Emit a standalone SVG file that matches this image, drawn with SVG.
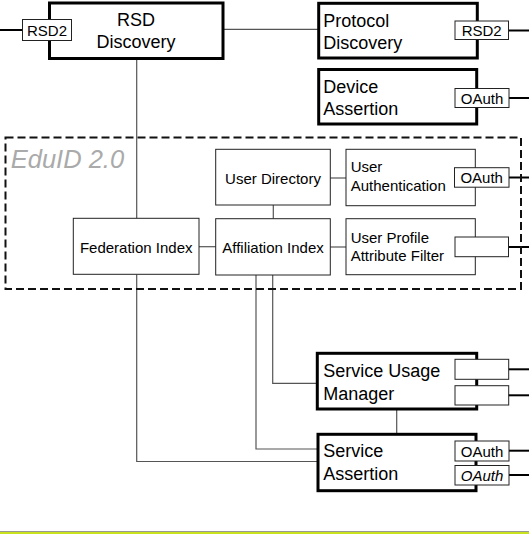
<svg xmlns="http://www.w3.org/2000/svg" width="529" height="534" viewBox="0 0 529 534">
<style>
.thick{fill:#fff;stroke:#000;stroke-width:3}
.thin{fill:#fff;stroke:#222;stroke-width:1}
.tag{fill:#fff;stroke:#222;stroke-width:1}
.conn{fill:none;stroke:#555;stroke-width:1.2}
.out{fill:none;stroke:#000;stroke-width:2}
text{font-family:"Liberation Sans",Arial,sans-serif;fill:#000}
.big{font-size:18px}
.mid{font-size:15px}
.tt{font-size:15px;text-anchor:middle}
.c{text-anchor:middle}
</style>
<rect x="0" y="0" width="529" height="534" fill="#fff"/>
<g id="connectors">
<path class="out" d="M0 30H23"/>
<path class="conn" d="M224 29.3H318"/>
<path class="out" d="M508 30.5H529"/>
<path class="out" d="M508 98H529"/>
<path class="out" d="M508 177.5H529"/>
<path class="out" d="M508 247H529"/>
<path class="out" d="M508 369.3H529"/>
<path class="out" d="M508 395.3H529"/>
<path class="out" d="M508 450.7H529"/>
<path class="out" d="M508 475H529"/>
<path class="conn" d="M136.7 60V218.5"/>
<path class="conn" d="M199 246.7H216"/>
<path class="conn" d="M330 178H346"/>
<path class="conn" d="M330 247H346"/>
<path class="conn" d="M273.3 205V218.7"/>
<path class="conn" d="M136.7 274.5V461.5H318"/>
<path class="conn" d="M256 275V449H318"/>
<path class="conn" d="M272.7 275V383.3H318"/>
<path class="conn" d="M396.7 409V434"/>
</g>
<g id="eduid">
<rect x="5.5" y="137.5" width="515.5" height="151.5" fill="none" stroke="#111" stroke-width="2" stroke-dasharray="8 4"/>
<text x="10.7" y="167.7" font-size="25.5" font-style="italic" style="fill:#aaa">EduID 2.0</text>
</g>
<g id="rsd-discovery">
<rect class="thick" x="49.5" y="3" width="173.5" height="55.5"/>
<text class="big c" x="136" y="26">RSD</text>
<text class="big c" x="136" y="48">Discovery</text>
<rect class="tag" x="22.5" y="19.5" width="49" height="21"/>
<text class="tt" x="47" y="35.5">RSD2</text>
</g>
<g id="protocol-discovery">
<rect class="thick" x="318.7" y="3.3" width="158.6" height="54.7"/>
<text class="big" x="323.3" y="26.7">Protocol</text>
<text class="big" x="323.3" y="49">Discovery</text>
<rect class="tag" x="455" y="21" width="53.5" height="18.5"/>
<text class="tt" x="481.7" y="35.5">RSD2</text>
</g>
<g id="device-assertion">
<rect class="thick" x="318.7" y="69.5" width="158" height="54.5"/>
<text class="big" x="323.3" y="92.7">Device</text>
<text class="big" x="323.3" y="115">Assertion</text>
<rect class="tag" x="455" y="88.5" width="54" height="19"/>
<text class="tt" x="482" y="103.5">OAuth</text>
</g>
<g id="user-directory">
<rect class="thin" x="215.7" y="149.3" width="114.6" height="55.7"/>
<text class="mid c" x="273" y="184">User Directory</text>
</g>
<g id="affiliation-index">
<rect class="thin" x="215.7" y="218.7" width="114.6" height="56.3"/>
<text class="mid c" x="273" y="252.7">Affiliation Index</text>
</g>
<g id="federation-index">
<rect class="thin" x="73.3" y="218.3" width="125.7" height="56"/>
<text class="mid c" x="136.2" y="252.7">Federation Index</text>
</g>
<g id="user-authentication">
<rect class="thin" x="346" y="149.3" width="129.3" height="56.4"/>
<text class="mid" x="350.7" y="171.7">User</text>
<text class="mid" x="350.7" y="191">Authentication</text>
<rect class="tag" x="454.5" y="167.7" width="54.5" height="19.5"/>
<text class="tt" x="481.7" y="183">OAuth</text>
</g>
<g id="user-profile-attribute-filter">
<rect class="thin" x="346" y="218.7" width="129.3" height="56"/>
<text class="mid" x="350.7" y="243.3">User Profile</text>
<text class="mid" x="350.7" y="261">Attribute Filter</text>
<rect class="tag" x="455" y="237" width="53.5" height="19.7"/>
</g>
<g id="service-usage-manager">
<rect class="thick" x="317.3" y="353.3" width="159.4" height="55.7"/>
<text class="big" x="323.3" y="377.3">Service Usage</text>
<text class="big" x="323.3" y="400">Manager</text>
<rect class="tag" x="455" y="359.3" width="53.7" height="20"/>
<rect class="tag" x="455" y="385.7" width="53.7" height="19.3"/>
</g>
<g id="service-assertion">
<rect class="thick" x="318" y="434.3" width="158" height="56.4"/>
<text class="big" x="323.3" y="457.3">Service</text>
<text class="big" x="323.3" y="480">Assertion</text>
<rect class="tag" x="455" y="441" width="54" height="20"/>
<text class="tt" x="482" y="456.5">OAuth</text>
<rect class="tag" x="455" y="465.5" width="54" height="19.5"/>
<text class="tt" x="482" y="480.5" font-style="italic">OAuth</text>
</g>
<g id="footer">
<rect x="0" y="531" width="529" height="1" fill="#999"/>
<rect x="0" y="532" width="529" height="2" fill="#c8e21e"/>
</g>
</svg>
